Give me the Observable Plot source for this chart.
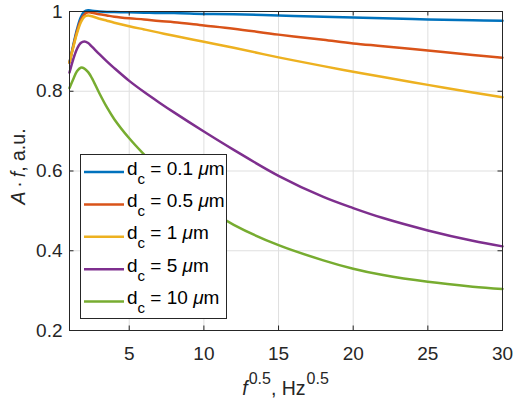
<!DOCTYPE html>
<html><head><meta charset="utf-8">
<script src="https://cdn.jsdelivr.net/npm/d3@7"></script>
<script src="https://cdn.jsdelivr.net/npm/@observablehq/plot@0.6"></script>
<style>html,body{margin:0;padding:0;background:#fff;}</style>
</head><body><div id="chart"></div>
<script>
// x values: f^0.5 (Hz^0.5)
const xs = [1,1.25,1.5,1.75,2,2.25,2.5,3,3.5,4,5,6,7,8,10,12,15,18,20,22,25,28,30];
// A·f (a.u.) per core diameter
const dc01 = [0.872,0.915,0.955,0.985,1.000,1.003,1.002,1.000,0.999,0.999,0.998,0.997,0.996,0.996,0.994,0.993,0.990,0.987,0.985,0.983,0.980,0.978,0.977];
const dc05 = [0.872,0.912,0.950,0.978,0.993,0.998,0.997,0.993,0.990,0.987,0.983,0.980,0.976,0.973,0.965,0.957,0.942,0.929,0.920,0.913,0.902,0.891,0.884];
const dc1  = [0.872,0.910,0.945,0.972,0.987,0.990,0.988,0.982,0.977,0.972,0.963,0.955,0.947,0.939,0.924,0.909,0.885,0.863,0.849,0.836,0.816,0.797,0.785];
const dc5  = [0.847,0.880,0.906,0.921,0.925,0.921,0.912,0.893,0.875,0.858,0.826,0.798,0.772,0.747,0.699,0.653,0.588,0.535,0.507,0.482,0.451,0.425,0.411];
const dc10 = [0.808,0.830,0.850,0.859,0.857,0.848,0.833,0.795,0.760,0.730,0.682,0.641,0.603,0.569,0.511,0.465,0.414,0.376,0.355,0.339,0.322,0.310,0.304];
const diameters = ["0.1","0.5","1","5","10"];
const colors = ["#0072BD","#D95319","#EDB120","#7E2F8E","#77AC30"];
const xTicks = [5,10,15,20,25,30];
const yTicks = [0.2,0.4,0.6,0.8,1];

const seriesValues = [dc01, dc05, dc1, dc5, dc10];
const rows = [];
seriesValues.forEach((vals, s) => xs.forEach((x, i) => rows.push({x, y: vals[i], d: diameters[s]})));

const W = 518, H = 404, mL = 69, mR = 16, mT = 11, mB = 74;
const pw = W - mL - mR, ph = H - mT - mB, tk = 4.5;
const axisColor = "#262626";

const svg = Plot.plot({
  width: W, height: H,
  marginLeft: mL, marginRight: mR, marginTop: mT, marginBottom: mB,
  style: {fontFamily: "'Liberation Sans', Arial, sans-serif", fontSize: "19px", color: axisColor, background: "#fff"},
  x: {domain: [1, 30]},
  y: {domain: [0.2, 1]},
  color: {domain: diameters, range: colors},
  marks: [
    Plot.gridX(xTicks, {stroke: "#dfdfdf", strokeOpacity: 1}),
    Plot.gridY(yTicks, {stroke: "#dfdfdf", strokeOpacity: 1}),
    Plot.line(rows, {x: "x", y: "y", z: "d", stroke: "d", strokeWidth: 2.5, curve: "catmull-rom"}),
    Plot.tickX(xTicks, {x: d => d, insetTop: ph - tk, stroke: axisColor}),
    Plot.tickX(xTicks, {x: d => d, insetBottom: ph - tk, stroke: axisColor}),
    Plot.tickY(yTicks, {y: d => d, insetRight: pw - tk, stroke: axisColor}),
    Plot.tickY(yTicks, {y: d => d, insetLeft: pw - tk, stroke: axisColor}),
    Plot.frame({stroke: axisColor}),
    Plot.axisX(xTicks, {tickSize: 0, tickPadding: 16, label: null, tickFormat: d => String(d)}),
    Plot.axisY(yTicks, {tickSize: 0, tickPadding: 7, label: null, tickFormat: d => String(d)})
  ]
});
document.getElementById("chart").appendChild(svg);

const root = d3.select(svg);
const ff = "'Liberation Sans', Arial, sans-serif";

// x label
const xl = root.append("text").attr("x", mL + pw / 2).attr("y", 395)
  .attr("text-anchor", "middle").attr("font-family", ff).attr("font-size", 19.5).attr("fill", axisColor);
xl.append("tspan").attr("font-style", "italic").text("f");
xl.append("tspan").attr("font-size", 16).attr("dy", -11.5).attr("dx", 1).text("0.5");
xl.append("tspan").attr("dy", 11.5).text(", Hz");
xl.append("tspan").attr("font-size", 16).attr("dy", -11.5).attr("dx", 1).text("0.5");

// y label
const yl = root.append("text").attr("transform", `translate(25,${mT + ph / 2 - 4}) rotate(-90)`)
  .attr("text-anchor", "middle").attr("font-family", ff).attr("font-size", 19.5).attr("fill", axisColor);
yl.append("tspan").attr("font-style", "italic").text("A");
yl.append("tspan").text("\u2009\u00B7\u2009");
yl.append("tspan").attr("font-style", "italic").text("f");
yl.append("tspan").text(", a.u.");

// legend
const lg = root.append("g").attr("text-anchor", "start");
lg.append("rect").attr("x", 80.5).attr("y", 154.5).attr("width", 146).attr("height", 164)
  .attr("fill", "#fff").attr("stroke", axisColor).attr("stroke-width", 1);
diameters.forEach((d, i) => {
  const yRow = 172 + i * 32.4;
  lg.append("line").attr("x1", 84).attr("x2", 124).attr("y1", yRow).attr("y2", yRow)
    .attr("stroke", colors[i]).attr("stroke-width", 2.5);
  const t = lg.append("text").attr("x", 127).attr("y", yRow + 2.5).attr("text-anchor", "start")
    .attr("font-family", ff).attr("font-size", 19).attr("fill", "#000");
  t.append("tspan").text("d");
  t.append("tspan").attr("font-size", 15).attr("dy", 9).text("c");
  t.append("tspan").attr("dy", -9).text(` = ${d} `);
  t.append("tspan").attr("font-style", "italic").text("\u03BC");
  t.append("tspan").text("m");
});
</script>
</body></html>
